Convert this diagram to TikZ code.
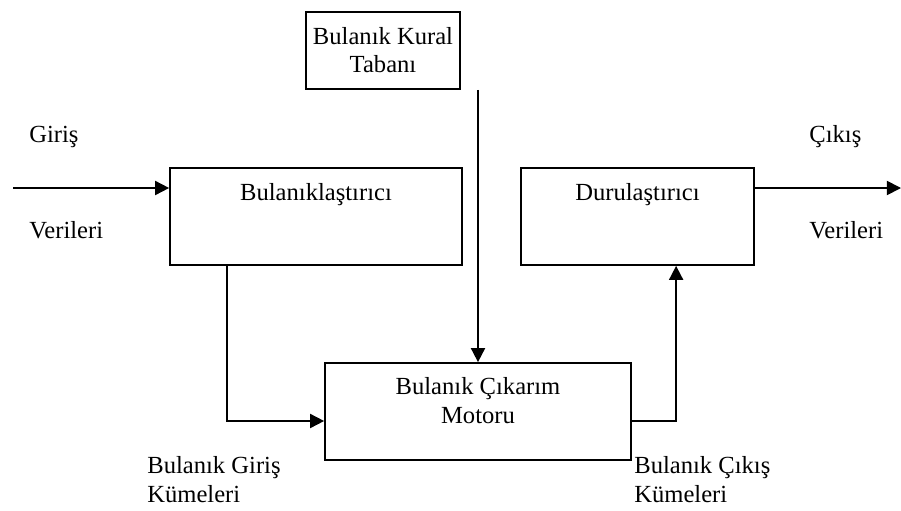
\documentclass[tikz,border=0pt]{standalone}
\usepackage{fontspec}
\setmainfont{Liberation Serif}
\usetikzlibrary{arrows.meta}

\begin{document}
\begin{tikzpicture}[x=0.02cm,y=-0.02cm,
  kutu/.style={draw,line width=1pt,minimum height=1.94cm,inner sep=0pt},
  yazi/.style={font=\fontsize{14}{16}\selectfont,inner sep=0pt},
  ok/.style={line width=1pt,-{Triangle[length=8pt,width=8pt]}}]
\useasboundingbox (0,0) rectangle (901,510);

\node[kutu,minimum width=3.08cm,minimum height=1.54cm,align=center,yazi] (kural) at (383,50.5) {Bulanık Kural\\Tabanı};
\node[kutu,minimum width=5.84cm] (bulan) at (316,216.5) {};
\node[kutu,minimum width=4.66cm] (durul) at (637.5,216.5) {};
\node[kutu,minimum width=6.12cm] (motor) at (478,411.5) {};

\node[yazi,anchor=base] (bulant) at (316,200) {Bulanıklaştırıcı};
\node[yazi,anchor=base] (durult) at (637.5,200) {Durulaştırıcı};
\node[yazi,anchor=base,align=center] (motort) at (478,423) {Bulanık Çıkarım\\Motoru};

\node[yazi,anchor=base west] (giris) at (29,142) {Giriş};
\node[yazi,anchor=base west] (girisv) at (29,238) {Verileri};
\node[yazi,anchor=base west] (cikis) at (809,142) {Çıkış};
\node[yazi,anchor=base west] (cikisv) at (809,238) {Verileri};
\node[yazi,anchor=base west,align=left] (bgiris) at (147,502) {Bulanık Giriş\\Kümeleri};
\node[yazi,anchor=base west,align=left] (bcikis) at (634,502) {Bulanık Çıkış\\Kümeleri};

\coordinate (gir) at (13,188);
\coordinate (cik) at (901,188);

\draw[ok] (gir) -- (gir -| bulan.west);
\draw[ok] (durul.east |- cik) -- (cik);
\draw[ok] (kural.south -| motor.north) -- (motor.north);
\draw[ok] ([xshift=1.16cm]bulan.south west) |- ([yshift=-0.19cm]motor.west);
\draw[ok] ([yshift=-0.19cm]motor.east) -| ([xshift=3.12cm]durul.south west);
\end{tikzpicture}
\end{document}
